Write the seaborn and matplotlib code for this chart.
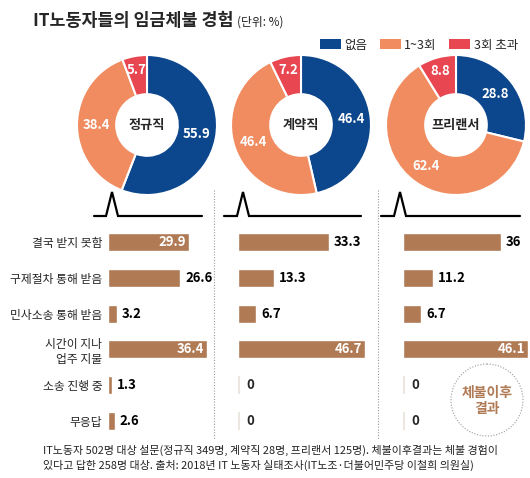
import matplotlib
matplotlib.use("Agg")
import matplotlib.pyplot as plt
from matplotlib.patches import Patch, Circle
import numpy as np
import seaborn as sns

# 고용형태별 임금체불 경험 (%)
groups = ["정규직", "계약직", "프리랜서"]
legend_labels = ["없음", "1~3회", "3회 초과"]
none_pct = [55.9, 46.4, 28.8]
one_three_pct = [38.4, 46.4, 62.4]
over_three_pct = [5.7, 7.2, 8.8]

# 체불 이후 결과 (%)
outcomes = ["결국 받지 못함", "구제절차 통해 받음", "민사소송 통해 받음",
            "시간이 지나\n업주 지불", "소송 진행 중", "무응답"]
regular_out = [29.9, 26.6, 3.2, 36.4, 1.3, 2.6]
contract_out = [33.3, 13.3, 6.7, 46.7, 0, 0]
freelance_out = [36, 11.2, 6.7, 46.1, 0, 0]
# which value labels sit inside the bar (white)
inside_regular = [True, False, False, True, False, False]
inside_contract = [False, False, False, True, False, False]
inside_freelance = [False, False, False, True, False, False]

title = "IT노동자들의 임금체불 경험"
unit = "(단위: %)"
circle_text = "체불이후\n결과"
note = ("IT노동자 502명 대상 설문(정규직 349명, 계약직 28명, 프리랜서 125명). 체불이후결과는 체불 경험이\n"
        "있다고 답한 258명 대상. 출처: 2018년 IT 노동자 실태조사(IT노조·더불어민주당 이철희 의원실)")

BLUE = "#0c468c"
ORANGE = "#f08c5f"
RED = "#e84650"
BROWN = "#b07a55"

sns.set_theme(style="white")
plt.rcParams["font.family"] = ["Noto Sans CJK KR", "DejaVu Sans"]

W, H = 530, 478
fig = plt.figure(figsize=(W / 100, H / 100), dpi=100)


def px_axes(x, y, w, h):
    # pixel box (top-left origin) -> figure axes
    return fig.add_axes([x / W, 1 - (y + h) / H, w / W, h / H])


# background overlay for text and decorations
bg = px_axes(0, 0, W, H)
bg.set_xlim(0, W)
bg.set_ylim(H, 0)
bg.axis("off")

bg.text(33, 21, title, fontsize=12.5, fontweight="bold", va="center", ha="left")
bg.text(237, 22, unit, fontsize=8.5, va="center", ha="left", color="#222222")

handles = [Patch(facecolor=c, edgecolor="none") for c in (BLUE, ORANGE, RED)]
fig.legend(handles, legend_labels, loc="center right", ncol=3,
           bbox_to_anchor=(518 / W, 1 - 45 / H), frameon=False, fontsize=9,
           handlelength=1.65, handleheight=0.9, handletextpad=0.3,
           columnspacing=1.0, borderaxespad=0, borderpad=0)

# donuts
centers = [147, 301, 456]
R = 70
for i, cx in enumerate(centers):
    ax = px_axes(cx - R, 125 - R, 2 * R, 2 * R)
    vals = [none_pct[i], one_three_pct[i], over_three_pct[i]]
    wedges, _ = ax.pie(vals, colors=[BLUE, ORANGE, RED], startangle=90,
                       counterclock=False, radius=1,
                       wedgeprops=dict(width=0.56, edgecolor="white", linewidth=1.5))
    ax.set_xlim(-1, 1)
    ax.set_ylim(-1, 1)
    for w, v in zip(wedges, vals):
        ang = np.deg2rad((w.theta1 + w.theta2) / 2)
        r = 0.72 if v > 10 else 0.8
        ax.text(r * np.cos(ang), r * np.sin(ang), f"{v}", color="white",
                fontsize=9.5, fontweight="bold", ha="center", va="center")
    ax.text(0, 0, groups[i], fontsize=9.5, fontweight="bold", ha="center", va="center")

# pointer lines under donuts
for x0, x1, xs in [(94, 202, 112), (224, 361, 243), (381, 520, 400)]:
    bg.plot([x0, xs - 6, xs, xs + 6, x1], [216, 216, 192, 216, 216],
            color="black", lw=1.6, solid_joinstyle="miter")

# dotted separators
for x in (214, 378):
    bg.plot([x, x], [190, 440], color="#999999", lw=0.8, ls=(0, (1, 1.5)))

# bars
SCALE = 2.72  # px per %
panels = [(108, regular_out, inside_regular),
          (238, contract_out, inside_contract),
          (403, freelance_out, inside_freelance)]
row_top, row_bot = 224, 439
for k, (x0, vals, inside) in enumerate(panels):
    ax = px_axes(x0, row_top, 47.5 * SCALE, row_bot - row_top)
    sns.barplot(x=vals, y=outcomes, orient="h", color=BROWN, saturation=1,
                width=0.5, ax=ax)
    ax.set_xlim(0, 47.5)
    ax.set_ylim(len(outcomes) - 0.5, -0.5)
    for s in ax.spines.values():
        s.set_visible(False)
    ax.set_xticks([])
    ax.set_xlabel("")
    ax.set_ylabel("")
    ax.patch.set_alpha(0)
    if k == 0:
        ax.tick_params(axis="y", length=0, pad=4, labelsize=8.5)
    else:
        ax.set_yticks([])
    for j, (v, ins) in enumerate(zip(vals, inside)):
        if v == 0:
            ax.vlines(0.2, j - 0.25, j + 0.25, color="#ece6e0", lw=1.5)
            ax.text(3, j, "0", fontsize=9.5, fontweight="bold", va="center", ha="left")
        elif ins:
            ax.text(v - 1.1, j, f"{v}", fontsize=9.5, fontweight="bold", color="white",
                    va="center", ha="right")
        else:
            ax.text(v + 1.8, j, f"{v}", fontsize=9.5, fontweight="bold", color="black",
                    va="center", ha="left")

# "체불이후 결과" badge
bg.add_patch(Circle((487, 400), 36, fill=False, ec="#999999", lw=0.8, ls=(0, (1, 1.5))))
bg.text(487, 401, circle_text, color=BROWN, fontsize=10, fontweight="bold",
        ha="center", va="center", linespacing=1.25)

bg.text(43, 458, note, fontsize=7.9, ha="left", va="center", linespacing=1.35,
        color="#222222")

fig.savefig("out.png", dpi=100)
